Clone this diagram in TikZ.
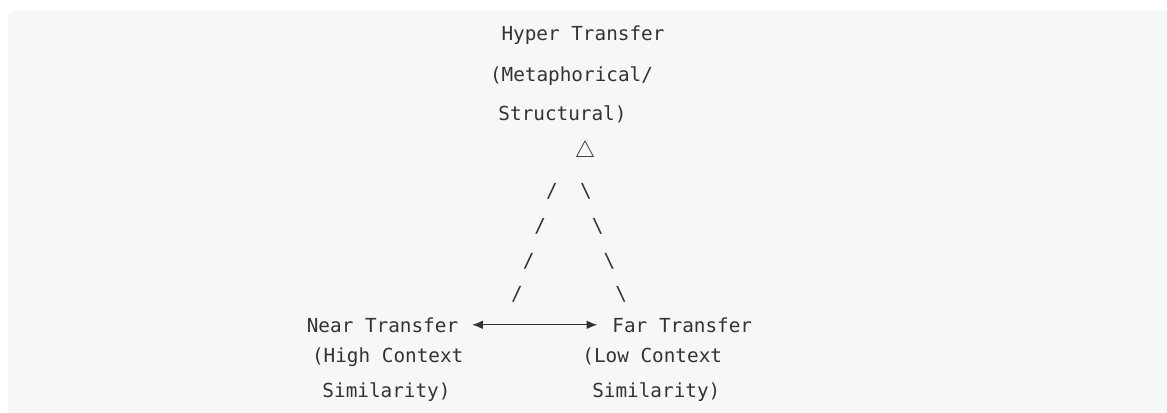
\documentclass[tikz,border=0pt]{standalone}
\usepackage{fontspec}
\setmonofont{DejaVu Sans Mono}
\usetikzlibrary{arrows.meta}
\definecolor{codebg}{HTML}{F6F7F9}
\definecolor{ink}{HTML}{333333}
\begin{document}
\begin{tikzpicture}[x=0.75pt,y=-0.75pt,
  txt/.style={inner sep=0pt,anchor=base,text=ink,font=\ttfamily\fontsize{14.5}{17}\selectfont},
  bar/.style={draw=ink,line width=0.9pt}]
\useasboundingbox (0,0) rectangle (1167,412);
\fill[codebg,rounded corners=4.5pt] (8,11) rectangle (1180,425);
\node[txt] (hyper) at (583,40) {Hyper Transfer};
\node[txt] (meta) at (571.5,81.7) {(Metaphorical/};
\node[txt] (struct) at (562.5,120) {Structural)};
\node[inner sep=0pt,text=ink,font=\fontsize{17}{20}\selectfont] (apex) at (585,151.5) {$\triangle$};
\foreach \i/\xl/\xr/\yb in {1/552/586/197,2/540.3/597.7/232,3/528.6/609.4/267,4/516.9/621.1/300} {
  \node[txt] (l\i) at (\xl,\yb) {/};
  \node[txt] (r\i) at (\xr,\yb) {\textbackslash};
}
\node[txt] (near) at (382.5,332) {Near Transfer};
\node[txt] (far) at (682.3,332) {Far Transfer};
\node[txt] (nearctx) at (387.7,362) {(High Context};
\node[txt] (nearsim) at (386.5,397) {Similarity)};
\node[txt] (farctx) at (652.2,362) {(Low Context};
\node[txt] (farsim) at (656.3,397) {Similarity)};
\draw[bar,{Latex[length=8pt,width=6.5pt]}-{Latex[length=8pt,width=6.5pt]},shorten <=10.3pt,shorten >=11.2pt] (near.east) -- (far.west);
\end{tikzpicture}
\end{document}
